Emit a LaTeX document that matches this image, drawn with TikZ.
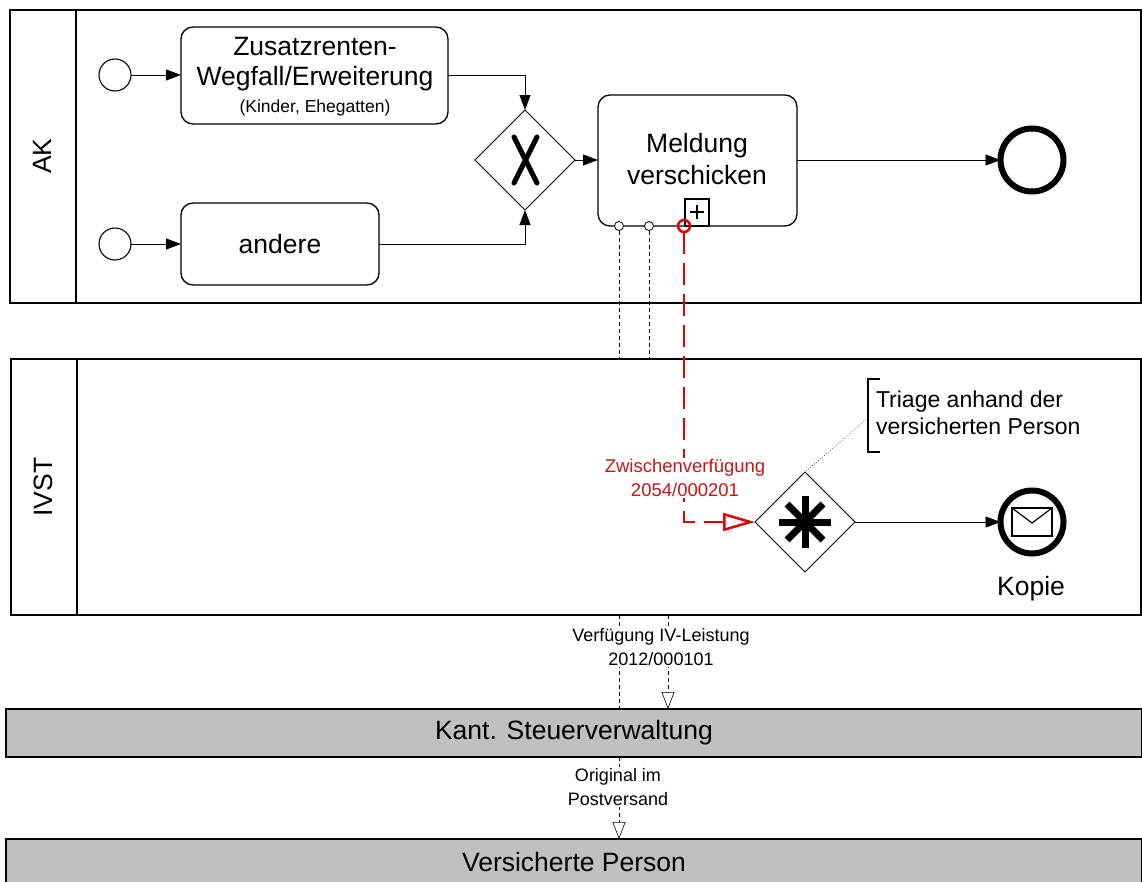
\documentclass[tikz,border=0pt]{standalone}
\usepackage{fontspec}
\setmainfont{Liberation Sans}
\usetikzlibrary{arrows.meta,shapes.geometric,calc}
\definecolor{barfill}{RGB}{192,192,192}
\definecolor{msgred}{RGB}{230,0,0}
\definecolor{lblred}{RGB}{200,20,20}
\begin{document}
\begin{tikzpicture}[x=1pt,y=-1pt,
  every node/.style={inner sep=0pt,outer sep=0pt},
  big/.style={font=\fontsize{26.5}{32}\selectfont,align=center},
  small/.style={font=\fontsize{18}{24}\selectfont,align=center},
  pool/.style={draw,line width=1.3pt},
  task/.style={draw,line width=1.3pt,rounded corners=12pt},
  startev/.style={draw,circle,line width=1.1pt,minimum size=32pt},
  endev/.style={draw,circle,line width=6pt,minimum size=63pt},
  gate/.style={draw,diamond,line width=1pt,minimum width=100pt,minimum height=100pt,aspect=1},
  seq/.style={line width=0.9pt,-{Triangle[length=15pt,width=11pt]}},
  msg/.style={line width=0.6pt,dash pattern=on 4pt off 3pt},
  msgarr/.style={msg,-{Triangle[open,length=17pt,width=13pt]}},
  barbox/.style={draw,line width=1.6pt,fill=barfill,minimum width=1136pt,minimum height=48pt,anchor=north west}
]
\useasboundingbox (0,0) rectangle (1142,881);

% ---------- pools ----------
\draw[pool] (10,10) rectangle (1141,303);
\draw[pool] (76,10) -- (76,303);
\node[big,rotate=90] (akl) at (42,156) {AK};

\draw[pool] (11,359) rectangle (1141,615);
\draw[pool] (77,359) -- (77,615);
\node[big,rotate=90] (ivl) at (43,487) {IVST};

\node[barbox] (kant) at (6,709) {};
\node[big] at (kant.center) {Kant. Steuerverwaltung};
\node[barbox] (vp) at (6,839) {};
\node[big] at (574,862) {Versicherte Person};

% ---------- AK content ----------
\node[startev] (s1) at (115,75) {};
\node[startev] (s2) at (115,244) {};
\draw[task] (181,27) rectangle (448,124);
\node[draw=none,minimum width=267pt,minimum height=97pt,anchor=north west] (t1) at (181,27) {};
\node at (315,47) {\fontsize{26.5}{32}\selectfont Zusatzrenten-};
\node at (315,79) {\fontsize{26.5}{32}\selectfont Wegfall/Erweiterung};
\node at (315,108) {\fontsize{17.5}{20}\selectfont (Kinder, Ehegatten)};

\draw[task] (181,203) rectangle (379,285);
\node[draw=none,minimum width=198pt,minimum height=82pt,anchor=north west] (t2) at (181,203) {};
\node[big] at (280,244) {andere};

\node[gate] (g1) at (525,160) {};
\draw[line width=5pt,line cap=round] (514,137) -- (537,183);
\draw[line width=5pt,line cap=round] (537,137) -- (514,183);

\draw[task] (598,95) rectangle (797,226);
\node[draw=none,minimum width=199pt,minimum height=131pt,anchor=north west] (t3) at (598,95) {};
\node[big] at (697,159) {Meldung\\verschicken};
\draw[line width=1.2pt] (685,199) rectangle (709,226);
\draw[line width=1.2pt] (690,212) -- (704,212) (697,205) -- (697,219);

\node[endev] (e1) at (1032,160) {};

\draw[seq] (s1) -- (t1.west |- s1);
\draw[seq] (s2) -- (t2.west |- s2);
\draw[seq] (t1.east |- 0,75) -- (525,75) -- (g1.north);
\draw[seq] (t2.east |- 0,244) -- (525,244) -- (g1.south);
\draw[seq] (g1.east) -- (t3.west |- g1.east);
\draw[seq] (t3.east |- 0,160) -- (e1.west);

% ---------- message flows (black) ----------
\node[draw,circle,fill=white,line width=0.8pt,minimum size=9pt] (c1) at (619,226) {};
\node[draw,circle,fill=white,line width=0.8pt,minimum size=9pt] (c2) at (649,226) {};
\coordinate (ivtop1) at (619,359);
\coordinate (ivtop2) at (649,359);
\draw[msg] (c1.south) -- (ivtop1);
\draw[msg] (c2.south) -- (ivtop2);

\coordinate (ivb1) at (619,615);
\coordinate (ivb2) at (668,615);
\draw[msg] (ivb1) -- (619,709);
\draw[msgarr] (ivb2) -- (668,709);
\node[small,fill=white,inner sep=1pt] (lab1) at (661,647) {Verfügung IV-Leistung\\2012/000101};

\coordinate (kb) at (619,757);
\draw[msgarr] (kb) -- (619,839);
\node[small,fill=white,inner sep=1pt] (lab2) at (618,787) {Original im\\Postversand};

% ---------- IVST content ----------
\node[gate] (g2) at (805,522) {};
\draw[line width=7pt] (779,522) -- (831,522) (805,496) -- (805,548);
\draw[line width=7pt] (787,504) -- (823,540) (823,504) -- (787,540);

\node[endev] (e2) at (1032,522) {};
\draw[line width=1.2pt] (1012,508) rectangle (1052,536);
\draw[line width=1.2pt] (1012,508) -- (1032,523) -- (1052,508);
\node[big] (kop) at (1031,589) {Kopie};

\draw[seq] (g2.east) -- (e2.west);

% red message flow
\node[draw=msgred,circle,line width=2.5pt,minimum size=12pt] (rc) at (684,226) {};
\coordinate (rb) at (684,522);
\draw[msgred,line width=2.5pt,dash pattern=on 22pt off 9pt,-{Triangle[open,length=32pt,width=18pt,line width=2.5pt]}]
  (rc.south) -- (rb) -- (g2.west);
\node[fill=white,inner sep=1pt,font=\fontsize{18.5}{24}\selectfont,text=lblred,align=center] (rl) at (685,478) {Zwischenverfügung\\2054/000201};

% annotation
\draw[line width=1.2pt] (880,379) -- (868,379) -- (868,452) -- (880,452);
\node[anchor=west,font=\fontsize{23}{27}\selectfont,align=left] (ann) at (876,413) {Triage anhand der\\versicherten Person};
\draw[line width=0.6pt,dotted] (868,418) -- (g2.north);
\end{tikzpicture}
\end{document}
